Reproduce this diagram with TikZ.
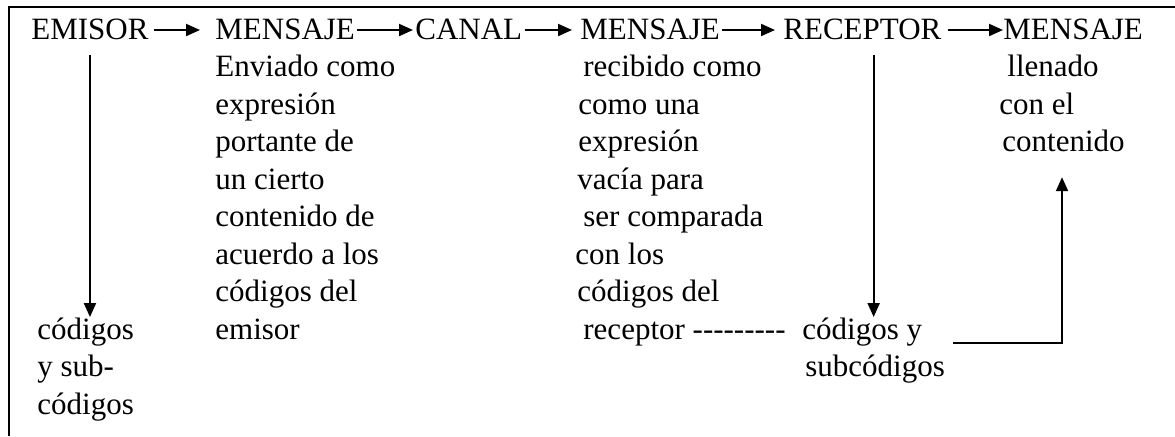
\documentclass[tikz,border=0pt]{standalone}
\usepackage{fontspec}
\setmainfont{Liberation Serif}[Ligatures=TeXOff]
\usetikzlibrary{arrows.meta}

\tikzset{
	texto/.style={inner sep=0, anchor=base west, font=\fontsize{15.5}{18.75}\selectfont},
	cabecera/.style={texto, text height=9pt, text depth=0pt},
	bloque/.style={texto, align=left},
	flecha/.style={line width=1pt, -{Triangle[length=7pt,width=6pt]}}
}

\begin{document}
\begin{tikzpicture}[x=0.5pt,y=-0.5pt]
	\useasboundingbox (0,0) rectangle (1175,436);

	%marco
	\draw[line width=1pt] (9,436) -- (9,7) -- (1175,7);

	%fila de arriba
	\node[cabecera] (emisor) at (31,39) {EMISOR};
	\node[cabecera] (msj1) at (215,39) {MENSAJE};
	\node[cabecera] (canal) at (415,39) {CANAL};
	\node[cabecera] (msj2) at (580,39) {MENSAJE};
	\node[cabecera] (receptor) at (783,39) {RECEPTOR};
	\node[cabecera] (msj3) at (1003,39) {MENSAJE};

	%textos debajo (base = ultima linea)
	\node[bloque] (msj1txt) at (215,339) {Enviado como\\expresión\\portante de\\un cierto\\contenido de\\acuerdo a los\\códigos del\\emisor};
	\node[bloque] (msj2txt) at (575,339) {\hspace*{4pt}recibido como\\\hspace*{1.5pt}como una\\\hspace*{1.5pt}expresión\\\hspace*{1pt}vacía para\\\hspace*{4pt}ser comparada\\con los\\\hspace*{1pt}códigos del\\\hspace*{4pt}receptor ---------};
	\node[bloque] (msj3txt) at (999,151.5) {\hspace*{4pt}llenado\\con el\\\hspace*{1.5pt}contenido};
	\node[bloque] (codemi) at (37,414) {códigos\\y sub-\\códigos};
	\node[bloque] (codrec) at (802,376.5) {códigos y\\\hspace*{1.5pt}subcódigos};

	%flechas de la fila
	\draw[flecha, shorten <=2.5pt, shorten >=7.5pt] (emisor.east) -- (msj1.west);
	\draw[flecha, shorten <=1pt, shorten >=1pt] (msj1.east) -- (canal.west);
	\draw[flecha, shorten <=1pt, shorten >=4pt] (canal.east) -- (msj2.west);
	\draw[flecha, shorten <=1pt, shorten >=4pt] (msj2.east) -- (receptor.west);
	\draw[flecha, shorten <=3pt] (receptor.east) -- (msj3.west);

	%codigos
	\draw[flecha, shorten <=8pt] (emisor.south) -- (emisor.south |- codemi.north);
	\draw[flecha, shorten <=8pt] (receptor.south -| codrec.north) -- (codrec.north);
	\coordinate (vuelta) at (953,343);
	\draw[flecha, shorten >=12.5pt] (vuelta) -| (msj3txt.south);

\end{tikzpicture}
\end{document}
